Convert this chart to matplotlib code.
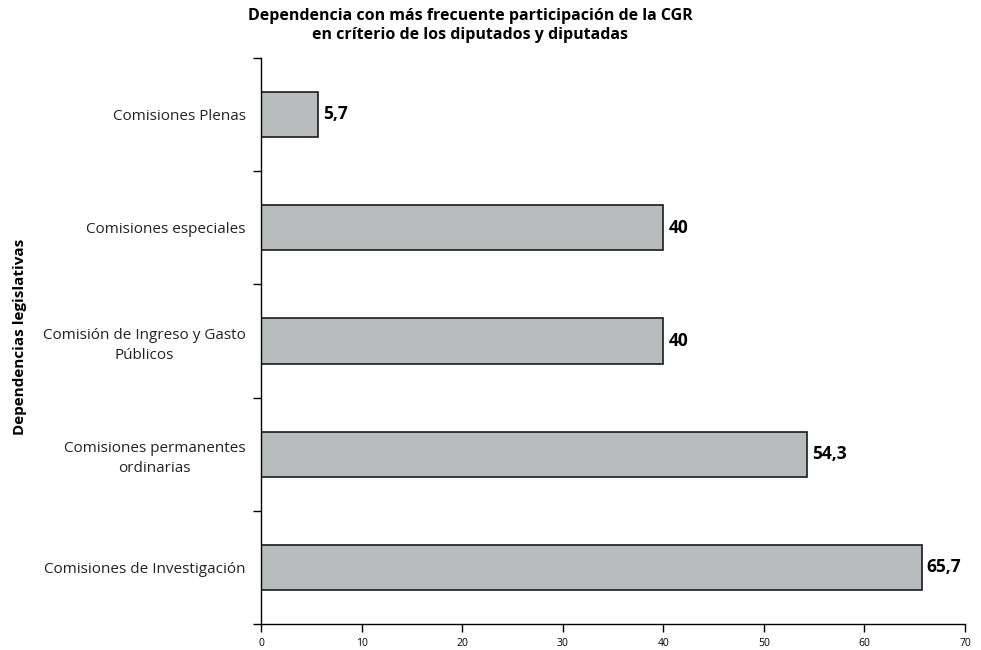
import matplotlib
matplotlib.use("Agg")
import matplotlib.pyplot as plt
import numpy as np

plt.rcParams['font.family'] = ['Open Sans', 'DejaVu Sans']

categories = ["Comisiones de Investigación",
              "Comisiones permanentes\nordinarias",
              "Comisión de Ingreso y Gasto\nPúblicos",
              "Comisiones especiales",
              "Comisiones Plenas"]
values = [65.7, 54.3, 40, 40, 5.7]
labels = ["65,7", "54,3", "40", "40", "5,7"]
xticks = [0, 10, 20, 30, 40, 50, 60, 70]

fig = plt.figure(figsize=(9.81, 6.5), dpi=100)
ax = fig.add_axes([0.266, 0.04, 0.7177, 0.871])

y = np.arange(len(categories))
ax.barh(y, values, height=0.4, color="#b9bcbd", edgecolor="#1a1a1a", linewidth=1.2)
for yi, v, lab in zip(y, values, labels):
    ax.text(v + 0.5, yi, lab, va="center", ha="left", fontsize=12.5, fontweight="bold", color="black")

ax.set_xlim(0, 70)
ax.set_ylim(-0.5, len(categories) - 0.5)
ax.set_xticks(xticks)
ax.set_xticklabels([str(t) for t in xticks], fontsize=7.5)
ax.set_yticks(y)
ax.set_yticklabels(categories, fontsize=11, fontweight="normal", color="#222222", linespacing=1.45)
for t in ax.get_yticklabels():
    t.set_multialignment("center")
ax.tick_params(axis='y', length=0, pad=11)
ax.set_yticks(np.arange(-0.5, len(categories)), minor=True)
ax.tick_params(axis='y', which='minor', length=6, direction='out', width=1)
ax.tick_params(axis='x', length=6, direction='out', width=1, pad=4)

ax.spines['top'].set_visible(False)
ax.spines['right'].set_visible(False)
ax.spines['left'].set_linewidth(1)
ax.spines['bottom'].set_linewidth(1)

fig.text(0.02, 0.4815, "Dependencias legislativas", rotation=90, ha="center", va="center",
         fontsize=11, fontweight="bold")
fig.text(0.479, 0.988, "Dependencia con más frecuente participación de la CGR\nen críterio de los diputados y diputadas",
         ha="center", va="top", fontsize=11.5, fontweight="bold", linespacing=1.25)

fig.savefig("out.png", dpi=100)
